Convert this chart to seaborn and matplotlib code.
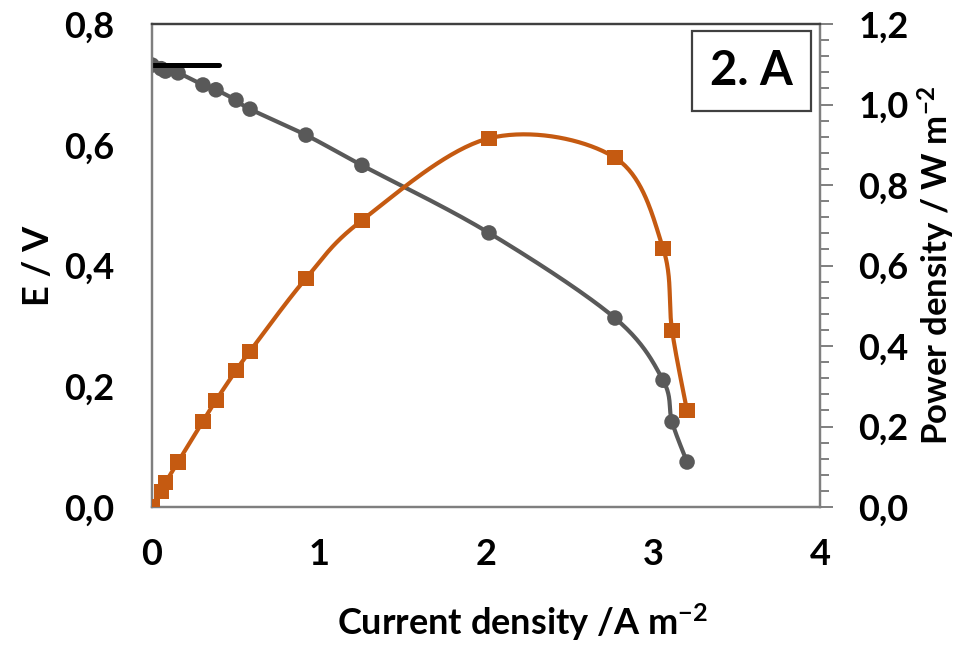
import numpy as np
import matplotlib
matplotlib.use("Agg")
import matplotlib.pyplot as plt
import seaborn as sns
from matplotlib.ticker import MultipleLocator, FixedLocator

# Polarisation and power curves of the cell
current = [0.0, 0.055, 0.08, 0.156, 0.305, 0.383, 0.503, 0.587, 0.922, 1.257, 2.018, 2.772, 3.06, 3.114, 3.204]
voltage = [0.732, 0.726, 0.722, 0.719, 0.699, 0.691, 0.674, 0.659, 0.616, 0.566, 0.454, 0.313, 0.210, 0.141, 0.0745]
power = [0.0, 0.038, 0.060, 0.112, 0.213, 0.265, 0.339, 0.387, 0.568, 0.712, 0.916, 0.868, 0.643, 0.439, 0.239]

# Open-circuit voltage marker
ocv_current = [0.0, 0.40]
ocv_voltage = [0.732, 0.732]

x_ticks = [0, 1, 2, 3, 4]
x_ticklabels = ["0", "1", "2", "3", "4"]
e_ticks = [0.0, 0.2, 0.4, 0.6, 0.8]
e_ticklabels = ["0,0", "0,2", "0,4", "0,6", "0,8"]
p_ticks = [0.0, 0.2, 0.4, 0.6, 0.8, 1.0, 1.2]
p_ticklabels = ["0,0", "0,2", "0,4", "0,6", "0,8", "1,0", "1,2"]

GREY = "#595959"
ORANGE = "#C55A11"

sns.set_theme(style="white")
plt.rcParams["font.family"] = ["Lato", "DejaVu Sans"]
plt.rcParams["font.weight"] = "bold"
plt.rcParams["axes.labelweight"] = "bold"
plt.rcParams["mathtext.default"] = "regular"
plt.rcParams["text.color"] = "black"
plt.rcParams["axes.labelcolor"] = "black"
plt.rcParams["xtick.labelcolor"] = "black"
plt.rcParams["ytick.labelcolor"] = "black"


def smooth(x, y, n=40):
    """Cubic Bezier smoothing through every point (spreadsheet style)."""
    pts = np.column_stack([x, y]).astype(float)
    segs = []
    for i in range(len(pts) - 1):
        p0 = pts[max(i - 1, 0)]
        p1 = pts[i]
        p2 = pts[i + 1]
        p3 = pts[min(i + 2, len(pts) - 1)]
        c1 = p1 + (p2 - p0) / 6.0
        c2 = p2 - (p3 - p1) / 6.0
        t = np.linspace(0, 1, n)[:, None]
        seg = (1 - t) ** 3 * p1 + 3 * (1 - t) ** 2 * t * c1 + 3 * (1 - t) * t ** 2 * c2 + t ** 3 * p2
        segs.append(seg if i == 0 else seg[1:])
    s = np.vstack(segs)
    return s[:, 0], s[:, 1]


fig = plt.figure(figsize=(9.66, 6.45), dpi=100)
ax = fig.add_axes([152 / 966, 1 - 507 / 645, 668 / 966, 483 / 645])
ax2 = ax.twinx()

# Cell voltage
sx, sy = smooth(current, voltage)
sns.lineplot(x=sx, y=sy, ax=ax, color=GREY, lw=3.0, sort=False, estimator=None)
sns.scatterplot(x=current, y=voltage, ax=ax, color=GREY, marker="o", s=125,
                edgecolor="none", zorder=3)
sns.lineplot(x=ocv_current, y=ocv_voltage, ax=ax, color="black", lw=3.6,
             sort=False, estimator=None, zorder=4)

# Power density
px, py = smooth(current, power)
sns.lineplot(x=px, y=py, ax=ax2, color=ORANGE, lw=3.0, sort=False, estimator=None)
sns.scatterplot(x=current, y=power, ax=ax2, color=ORANGE, marker="s", s=120,
                edgecolor="none", zorder=3)

ax.set_xlim(0, 4)
ax.set_ylim(0, 0.8)
ax2.set_ylim(0, 1.2)

ax.xaxis.set_major_locator(FixedLocator(x_ticks))
ax.set_xticklabels(x_ticklabels)
ax.yaxis.set_major_locator(FixedLocator(e_ticks))
ax.set_yticklabels(e_ticklabels)
ax2.yaxis.set_major_locator(FixedLocator(p_ticks))
ax2.set_yticklabels(p_ticklabels)
ax2.yaxis.set_minor_locator(MultipleLocator(0.04))

ax.tick_params(axis="x", length=0, pad=22, labelsize=26, labelcolor="black")
ax.tick_params(axis="y", length=0, pad=27, labelsize=26, labelcolor="black")
ax2.tick_params(axis="y", which="major", direction="out", length=9.5, width=1.4,
                color="#7f7f7f", pad=18, labelsize=26, labelcolor="black",
                left=False, right=True)
ax2.tick_params(axis="y", which="minor", direction="out", length=6.5, width=1.4,
                color="#7f7f7f", left=False, right=True)
for lab in ax.get_xticklabels() + ax.get_yticklabels() + ax2.get_yticklabels():
    lab.set_fontweight("bold")

for a in (ax, ax2):
    for side in ("left", "bottom", "right"):
        a.spines[side].set_color("#7f7f7f")
        a.spines[side].set_linewidth(1.6)
    a.spines["top"].set_color("#404040")
    a.spines["top"].set_linewidth(1.6)

ax.set_xlabel("Current density /A m$^{-2}$", fontsize=26, fontweight="bold", color="black")
ax.set_ylabel("E / V", fontsize=26, fontweight="bold", color="black")
ax2.set_ylabel("Power density / W m$^{-2}$", fontsize=25, fontweight="bold", color="black")
ax.xaxis.set_label_coords(0.555, -0.195)
ax.yaxis.set_label_coords(-0.145, 0.5)
ax2.yaxis.set_label_coords(1.143, 0.5)

ax.text(0.897, 0.902, "2. A", transform=ax.transAxes, ha="center", va="center",
        fontsize=34, fontweight="bold", color="black",
        bbox=dict(boxstyle="square,pad=0.38", facecolor="white", edgecolor="#404040", linewidth=1.6))

fig.savefig("out.png", dpi=100)
